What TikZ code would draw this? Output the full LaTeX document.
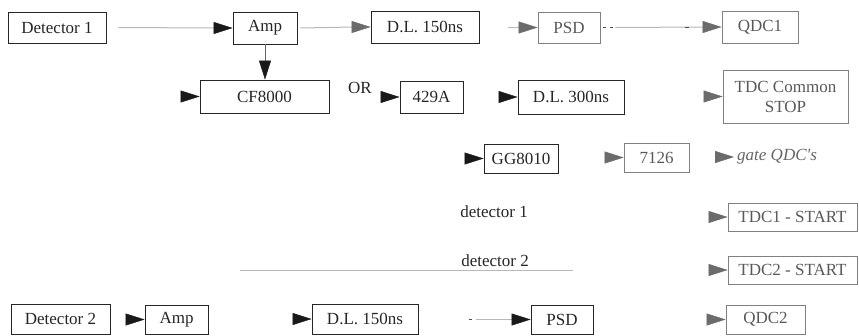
\documentclass[tikz,border=0pt]{standalone}
\usepackage{fontspec}
\setmainfont{Liberation Serif}
\newfontfamily\tnr{Liberation Serif}
\usetikzlibrary{arrows.meta}
\begin{document}
\begin{tikzpicture}[x=1pt,y=-1pt,
  blk/.style={draw=black!85, line width=0.9pt, inner sep=0pt, text=black!85, font=\tnr\fontsize{17}{19}\selectfont},
  gry/.style={blk, draw=black!50, text=black!65},
  lbl/.style={inner sep=0pt, text=black!85, font=\tnr\fontsize{17}{19}\selectfont},
  arrk/.style={-{Triangle[length=19pt,width=12pt]}, black!90, line width=0.4pt},
  arrg/.style={-{Triangle[length=19pt,width=12pt]}, black!58, line width=0.4pt},
  faint/.style={black!28, line width=1pt},
  darkdash/.style={black!70, line width=1pt}]
\useasboundingbox (0,0) rectangle (859,335);
\fill[white] (0,0) rectangle (859,335);

% row 1
\node[blk, minimum width=98, minimum height=31] (det1) at (57,27.5) {Detector 1};
\node[blk, minimum width=64, minimum height=32] (amp1) at (265,28) {Amp};
\node[blk, minimum width=108, minimum height=32] (dl1) at (425,27) {D.L. 150ns};
\node[gry, minimum width=62, minimum height=31] (psd1) at (569,27.5) {PSD};
\node[gry, minimum width=76, minimum height=32] (qdc1) at (760,27) {QDC1};

% row 2
\node[blk, minimum width=129, minimum height=33] (cf) at (264.5,96.5) {CF8000};
\node[lbl] (or) at (360,88) {OR};
\node[blk, minimum width=63, minimum height=32] (a429) at (431.5,97) {429A};
\node[blk, minimum width=106, minimum height=34] (dl3) at (571,97) {D.L. 300ns};
\node[gry, minimum width=125, minimum height=53, align=center] (tdcs) at (785.5,96.5) {TDC Common\\[1pt]STOP};

% row 3
\node[blk, minimum width=74, minimum height=29] (gg) at (521,158.5) {GG8010};
\node[gry, minimum width=65, minimum height=29] (g7126) at (656.5,157.5) {7126};
\node[lbl, anchor=west, text=black!60, font=\tnr\fontsize{17}{19}\selectfont\itshape] (gate) at (737,157) {gate QDC's};

% rows 4 and 5
\node[lbl] (d1lbl) at (494,212) {detector 1};
\node[gry, minimum width=129, minimum height=28] (tdc1) at (792.5,217) {TDC1 - START};
\node[lbl] (d2lbl) at (495,261) {detector 2};
\node[gry, minimum width=129, minimum height=28] (tdc2) at (792.5,270) {TDC2 - START};
\coordinate (l5a) at (240,270);
\coordinate (l5b) at (573,270);

% row 6
\node[blk, minimum width=99, minimum height=30] (det2) at (60.5,319) {Detector 2};
\node[blk, minimum width=63, minimum height=29] (amp2) at (176.5,319.5) {Amp};
\node[blk, minimum width=106, minimum height=30] (dl2) at (365,319) {D.L. 150ns};
\node[blk, minimum width=62, minimum height=29] (psd2) at (562,319.5) {PSD};
\node[gry, minimum width=79, minimum height=29] (qdc2) at (765.5,319.5) {QDC2};

% connectors row 1
\draw[faint] ([xshift=12]det1.east) -- ([xshift=-16]amp1.west);
\draw[arrk] ([xshift=-16]amp1.west) -- (amp1.west);
\draw[faint] ([xshift=3]amp1.east) -- ([xshift=-16]dl1.west);
\draw[arrg] ([xshift=-16]dl1.west) -- (dl1.west);
\draw[faint] ([xshift=-30]psd1.west) -- ([xshift=-16]psd1.west);
\draw[arrg] ([xshift=-16]psd1.west) -- (psd1.west);
\draw[darkdash] ([xshift=3]psd1.east) -- ([xshift=6]psd1.east);
\draw[darkdash] ([xshift=10]psd1.east) -- ([xshift=13]psd1.east);
\draw[faint] ([xshift=15]psd1.east) -- ([xshift=-16]qdc1.west);
\draw[darkdash] ([xshift=-37]qdc1.west) -- ([xshift=-33]qdc1.west);
\draw[arrg] ([xshift=-16]qdc1.west) -- (qdc1.west);
\draw[black!60, line width=0.7pt] (amp1.south) -- ([yshift=16]amp1.south |- cf.north);
\draw[arrk] ([yshift=16]amp1.south |- cf.north) -- (amp1.south |- cf.north);

% row 2
\draw[arrk] ([xshift=-16]cf.west) -- (cf.west);
\draw[arrk] ([xshift=-16]a429.west) -- (a429.west);
\draw[arrk] ([xshift=-16]dl3.west) -- (dl3.west);
\draw[arrg] ([xshift=-16]tdcs.west) -- (tdcs.west);

% row 3
\draw[arrk] ([xshift=-16]gg.west) -- (gg.west);
\draw[arrg] ([xshift=-16]g7126.west) -- (g7126.west);
\draw[arrg] ([xshift=-19]gate.west) -- ([xshift=-3]gate.west);

% rows 4, 5
\draw[arrg] ([xshift=-16]tdc1.west) -- (tdc1.west);
\draw[arrg] ([xshift=-16]tdc2.west) -- (tdc2.west);
\draw[faint] (l5a) -- (l5b);

% row 6
\draw[arrk] ([xshift=-16]amp2.west) -- (amp2.west);
\draw[arrk] ([xshift=-16]dl2.west) -- (dl2.west);
\draw[darkdash] ([xshift=-62]psd2.west) -- ([xshift=-59]psd2.west);
\draw[faint] ([xshift=-55]psd2.west) -- ([xshift=-16]psd2.west);
\draw[arrk] ([xshift=-16]psd2.west) -- (psd2.west);
\draw[arrg] ([xshift=-16]qdc2.west) -- (qdc2.west);
\end{tikzpicture}
\end{document}
